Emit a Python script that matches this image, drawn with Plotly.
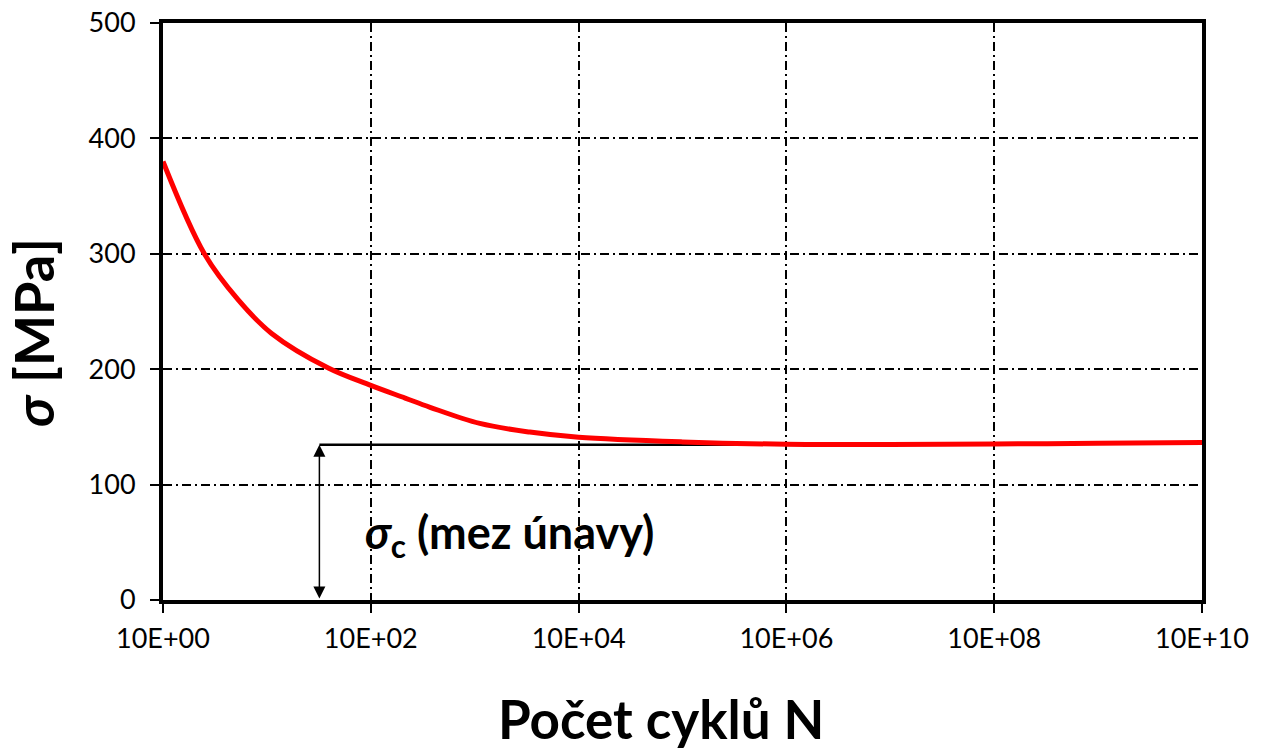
import math
import plotly.graph_objects as go

# S-N (Wöhler) curve data
cycles = [1, 2.5, 5.3, 11.1, 39, 100, 214, 372, 1120, 3390, 1e4, 1e5, 1e6, 1e7, 1e8, 1e9, 1e10]
stress = [380, 300, 260, 231, 201, 186, 175, 167, 153, 145.5, 141, 137, 135, 134.8, 135.2, 135.8, 136.5]

# fatigue limit line
limit_cycles = [32, 2.1e8]
limit_stress = [134.5, 134.5]

x_tickvals = [1, 1e2, 1e4, 1e6, 1e8, 1e10]
x_ticktext = ["10E+00", "10E+02", "10E+04", "10E+06", "10E+08", "10E+10"]
y_tickvals = [0, 100, 200, 300, 400, 500]

FONT = "Lato"

fig = go.Figure()
fig.add_trace(go.Scatter(x=limit_cycles, y=limit_stress, mode="lines",
                         line=dict(color="black", width=2.5), showlegend=False,
                         hoverinfo="skip"))
fig.add_trace(go.Scatter(x=cycles, y=stress, mode="lines",
                         line=dict(color="#ff0000", width=5, shape="spline", smoothing=1.0),
                         showlegend=False))

# double-headed arrow showing sigma_c
fig.add_annotation(x=math.log10(limit_cycles[0]), y=limit_stress[0],
                   ax=math.log10(limit_cycles[0]), ay=0,
                   xref="x", yref="y", axref="x", ayref="y", text="", showarrow=True,
                   arrowhead=2, startarrowhead=2, arrowside="end+start", arrowsize=1.6,
                   startarrowsize=1.6, arrowwidth=1.5, arrowcolor="black")
fig.add_annotation(x=1.925, y=56, xref="x", yref="y", xanchor="left", yanchor="middle",
                   text="<b><i>σ</i><sub>c</sub> (mez únavy)</b>", showarrow=False,
                   font=dict(family=FONT, size=45, color="black"))

# axis titles
fig.add_annotation(x=0.479, y=-0.2617, xref="paper", yref="paper", xanchor="center", yanchor="bottom",
                   text="<b>Počet cyklů N</b>", showarrow=False, borderpad=0,
                   font=dict(family=FONT, size=53, color="black"))
fig.add_annotation(x=-0.124, y=0.463, xref="paper", yref="paper", xanchor="center", yanchor="middle",
                   text="<b><i>σ</i> [MPa]</b>", showarrow=False, textangle=-90,
                   font=dict(family=FONT, size=54, color="black"))

grid = dict(showgrid=True, gridcolor="black", gridwidth=1.6, griddash="9px,4px,2px,4px")
fig.update_xaxes(type="log", range=[0, 10], tickvals=x_tickvals, ticktext=x_ticktext,
                 ticks="outside", ticklen=9, tickwidth=1.5, tickcolor="black",
                 showline=True, linecolor="black", linewidth=4, mirror=True,
                 tickfont=dict(family=FONT, size=27, color="black"), zeroline=False,
                 ticklabeloverflow="allow", ticklabelstandoff=3, automargin=False,
                 **grid)
fig.update_yaxes(range=[0, 500], tickvals=y_tickvals, ticks="outside", ticklen=9, tickwidth=1.5,
                 tickcolor="black", showline=True, linecolor="black", linewidth=4, mirror=True,
                 tickfont=dict(family=FONT, size=27, color="black"), zeroline=False,
                 ticklabeloverflow="allow", ticklabelstandoff=9, automargin=False,
                 **grid)
fig.update_layout(width=1264, height=753, margin=dict(l=163, r=62, t=23, b=153),
                  plot_bgcolor="white", paper_bgcolor="white", font=dict(family=FONT))
fig.write_html("out.html", config={"displayModeBar": False},
               post_script="document.body.style.margin='0';document.body.style.overflow='hidden';")
